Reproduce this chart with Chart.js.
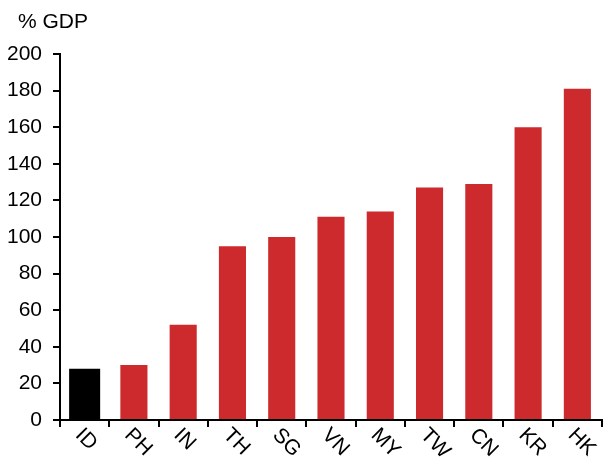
<!DOCTYPE html>
<html>
<head>
<meta charset="utf-8">
<script src="https://cdn.jsdelivr.net/npm/chart.js@4/dist/chart.umd.min.js"></script>
<style>
  html, body { margin: 0; padding: 0; background: #fff; }
  #wrap { width: 609px; height: 457px; }
</style>
</head>
<body>
<div id="wrap"><canvas id="c" width="609" height="457"></canvas></div>
<script>
// Economies on the x axis
const categories = ['ID', 'PH', 'IN', 'TH', 'SG', 'VN', 'MY', 'TW', 'CN', 'KR', 'HK'];
// Debt level, % of GDP
const values = [28, 30, 52, 95, 100, 111, 114, 127, 129, 160, 181];
// Economy drawn in black
const highlight = 'ID';
// Y axis ticks
const yTicks = [0, 20, 40, 60, 80, 100, 120, 140, 160, 180, 200];
const unitLabel = '% GDP';

const FONT = 'Liberation Sans, Arial, Helvetica, sans-serif';
const RED = '#cc2a2d';

const hiData = values.map((v, i) => categories[i] === highlight ? v : null);
const restData = values.map((v, i) => categories[i] === highlight ? null : v);

// Draws the rotated category names and the unit caption
const labelPlugin = {
  id: 'labels',
  afterDraw(chart) {
    const ctx = chart.ctx;
    const x = chart.scales.x;
    ctx.save();
    ctx.fillStyle = '#000';
    ctx.font = '21px ' + FONT;
    ctx.textAlign = 'left';
    ctx.textBaseline = 'middle';
    categories.forEach((c, i) => {
      const px = x.getPixelForValue(i);
      ctx.save();
      ctx.translate(px - 6, 432);
      ctx.rotate(Math.PI / 4);
      ctx.fillText(c, 0, 0);
      ctx.restore();
    });
    ctx.textBaseline = 'alphabetic';
    ctx.fillText(unitLabel, 18, 28);
    ctx.restore();
  }
};

new Chart(document.getElementById('c'), {
  type: 'bar',
  data: {
    labels: categories,
    datasets: [
      { data: hiData, backgroundColor: '#000', barPercentage: 0.63, categoryPercentage: 1 },
      { data: restData, backgroundColor: RED, barPercentage: 0.55, categoryPercentage: 1 }
    ]
  },
  options: {
    responsive: false,
    animation: false,
    devicePixelRatio: 1,
    layout: { padding: { top: 54, right: 7, left: 0, bottom: 0 } },
    plugins: { legend: { display: false }, tooltip: { enabled: false } },
    datasets: { bar: { grouped: false, skipNull: true } },
    scales: {
      x: {
        grid: { offset: true, drawOnChartArea: false, drawTicks: true, tickLength: 7, color: '#000', lineWidth: 2 },
        border: { color: '#000', width: 2 },
        ticks: { display: false },
        afterFit(s) { s.height = 37; }
      },
      y: {
        min: 0,
        max: 200,
        afterBuildTicks(s) { s.ticks = yTicks.map(v => ({ value: v })); },
        grid: { drawOnChartArea: false, drawTicks: true, tickLength: 7, color: '#000', lineWidth: 2 },
        border: { color: '#000', width: 2 },
        ticks: { color: '#000', padding: 11, font: { family: FONT, size: 21 } },
        afterFit(s) { s.width = 60; }
      }
    }
  },
  plugins: [labelPlugin]
});
</script>
</body>
</html>
